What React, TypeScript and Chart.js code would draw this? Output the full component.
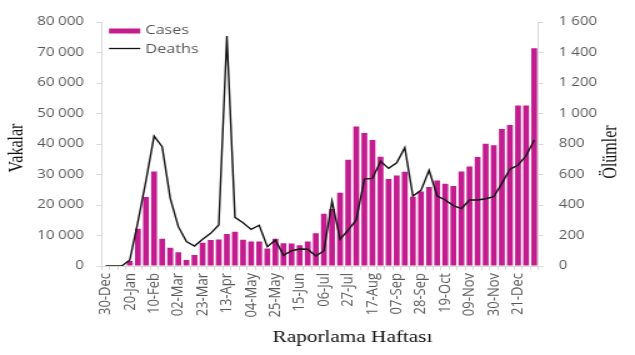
import React, { useEffect, useRef } from "react";
import { Chart, registerables } from "chart.js";

Chart.register(...registerables);

const weeks = [
  "30-Dec", "06-Jan", "13-Jan", "20-Jan", "27-Jan", "03-Feb", "10-Feb", "17-Feb", "24-Feb",
  "02-Mar", "09-Mar", "16-Mar", "23-Mar", "30-Mar", "06-Apr", "13-Apr", "20-Apr", "27-Apr",
  "04-May", "11-May", "18-May", "25-May", "01-Jun", "08-Jun", "15-Jun", "22-Jun", "29-Jun",
  "06-Jul", "13-Jul", "20-Jul", "27-Jul", "03-Aug", "10-Aug", "17-Aug", "24-Aug", "31-Aug",
  "07-Sep", "14-Sep", "21-Sep", "28-Sep", "05-Oct", "12-Oct", "19-Oct", "26-Oct", "02-Nov",
  "09-Nov", "16-Nov", "23-Nov", "30-Nov", "07-Dec", "14-Dec", "21-Dec", "28-Dec", "04-Jan",
];

const cases = [
  0, 0, 0, 1600, 12200, 22600, 31000, 8900, 6000, 4500, 2000, 3600, 7600, 8500, 8700, 10500,
  11200, 8600, 8000, 8000, 5700, 8900, 7500, 7400, 6800, 8000, 10700, 17100, 18700, 24000,
  34800, 45700, 43600, 41300, 35800, 28500, 29700, 30900, 22700, 24400, 25900, 28000, 27000,
  26200, 31000, 32600, 35700, 40100, 39600, 44900, 46200, 52600, 52600, 71400,
];

const deaths = [
  0, 0, 0, 40, 290, 560, 852, 782, 444, 258, 160, 131, 175, 214, 269, 1508, 319, 284, 240, 267,
  127, 170, 70, 100, 111, 110, 66, 100, 426, 175, 236, 302, 570, 574, 686, 640, 677, 776, 459,
  496, 627, 459, 433, 396, 376, 433, 433, 441, 454, 542, 634, 662, 723, 826,
];

const caseAxisMax = 80000;
const caseAxisStep = 10000;
const deathAxisMax = 1600;
const deathAxisStep = 200;

const seriesNames = ["Cases", "Deaths"];
const leftTitle = "Vakalar";
const rightTitle = "Ölümler";
const bottomTitle = "Raporlama Haftası";

const BAR = "#C21C8E";
const LINE = "#111111";
const AXIS = "#D9D9D9";
const TICK = "#595959";
const STRETCH = 1.25;
const OUT_W = 635;
const OUT_H = 355;
const W = Math.round(OUT_W / STRETCH);
const H = OUT_H;

const fmt = (v: number) => String(v).replace(/\B(?=(\d{3})+(?!\d))/g, " ");

const decor = {
  id: "decor",
  afterDraw(chart: any) {
    const ctx = chart.ctx as CanvasRenderingContext2D;
    const a = chart.chartArea;
    ctx.save();
    // legend
    ctx.fillStyle = BAR;
    ctx.fillRect(a.left + 6, a.top + 6.5, 25, 5);
    ctx.strokeStyle = LINE;
    ctx.lineWidth = 1.3;
    ctx.beginPath();
    ctx.moveTo(a.left + 6, a.top + 26.5);
    ctx.lineTo(a.left + 31, a.top + 26.5);
    ctx.stroke();
    ctx.fillStyle = TICK;
    ctx.font = "13px 'Open Sans'";
    ctx.textBaseline = "middle";
    ctx.textAlign = "left";
    ctx.fillText(seriesNames[0], a.left + 35, a.top + 8.5);
    ctx.fillText(seriesNames[1], a.left + 35, a.top + 27);

    // axis titles
    ctx.fillStyle = "#111111";
    ctx.font = "16px 'Liberation Serif'";
    ctx.textAlign = "center";
    ctx.save();
    ctx.translate(14, 148);
    ctx.rotate(-Math.PI / 2);
    ctx.fillText(leftTitle, 0, 0);
    ctx.restore();
    ctx.save();
    ctx.translate(489, 152);
    ctx.rotate(-Math.PI / 2);
    ctx.fillText(rightTitle, 0, 0);
    ctx.restore();
    ctx.font = "17px 'Liberation Serif'";
    ctx.fillText(bottomTitle, 282, 338);
    ctx.restore();
  },
};

export default function App() {
  const ref = useRef<HTMLCanvasElement | null>(null);

  useEffect(() => {
    if (!ref.current) return;
    const chart = new Chart(ref.current, {
      type: "bar",
      data: {
        labels: weeks,
        datasets: [
          {
            type: "line",
            label: seriesNames[1],
            data: deaths,
            yAxisID: "y1",
            borderColor: LINE,
            borderWidth: 1.4,
            pointRadius: 0,
            tension: 0,
            order: 0,
          } as any,
          {
            type: "bar",
            label: seriesNames[0],
            data: cases,
            yAxisID: "y",
            backgroundColor: BAR,
            barPercentage: 0.72,
            categoryPercentage: 1,
            order: 1,
          },
        ],
      },
      options: {
        responsive: false,
        animation: false,
        devicePixelRatio: 1,
        layout: { padding: { top: 22, left: 0, right: 0, bottom: 0 } },
        plugins: {
          legend: { display: false },
          tooltip: { enabled: false },
        },
        scales: {
          x: {
            offset: true,
            grid: {
              offset: true,
              drawOnChartArea: false,
              drawTicks: true,
              tickLength: 4,
              color: AXIS,
            },
            border: { color: AXIS },
            ticks: {
              autoSkip: false,
              maxRotation: 90,
              minRotation: 90,
              padding: 3,
              color: TICK,
              font: { family: "'Open Sans'", size: 13 },
              callback: (_v: any, i: number) => (i % 3 === 0 ? weeks[i] : ""),
            },
            afterFit: (s: any) => {
              s.height = 89;
            },
          },
          y: {
            position: "left",
            min: 0,
            max: caseAxisMax,
            grid: { drawOnChartArea: false, tickLength: 4, color: AXIS },
            border: { color: AXIS },
            ticks: {
              stepSize: caseAxisStep,
              padding: 10,
              color: TICK,
              font: { family: "'Open Sans'", size: 12 },
              callback: (v: any) => fmt(Number(v)),
            },
            afterFit: (s: any) => {
              s.width = 81.2;
            },
          },
          y1: {
            position: "right",
            min: 0,
            max: deathAxisMax,
            grid: { drawOnChartArea: false, tickLength: 4, color: AXIS },
            border: { color: AXIS },
            ticks: {
              stepSize: deathAxisStep,
              padding: 12.5,
              color: TICK,
              font: { family: "'Open Sans'", size: 12 },
              callback: (v: any) => fmt(Number(v)),
            },
            afterFit: (s: any) => {
              s.width = W - 430.6;
            },
          },
        },
      } as any,
      plugins: [decor],
    });
    return () => chart.destroy();
  }, []);

  return (
    <div style={{ position: "absolute", left: 0, top: 0, width: OUT_W, height: OUT_H, background: "#fff" }}>
      <canvas
        ref={ref}
        width={W}
        height={H}
        style={{ width: OUT_W + "px", height: OUT_H + "px", display: "block" }}
      />
    </div>
  );
}
